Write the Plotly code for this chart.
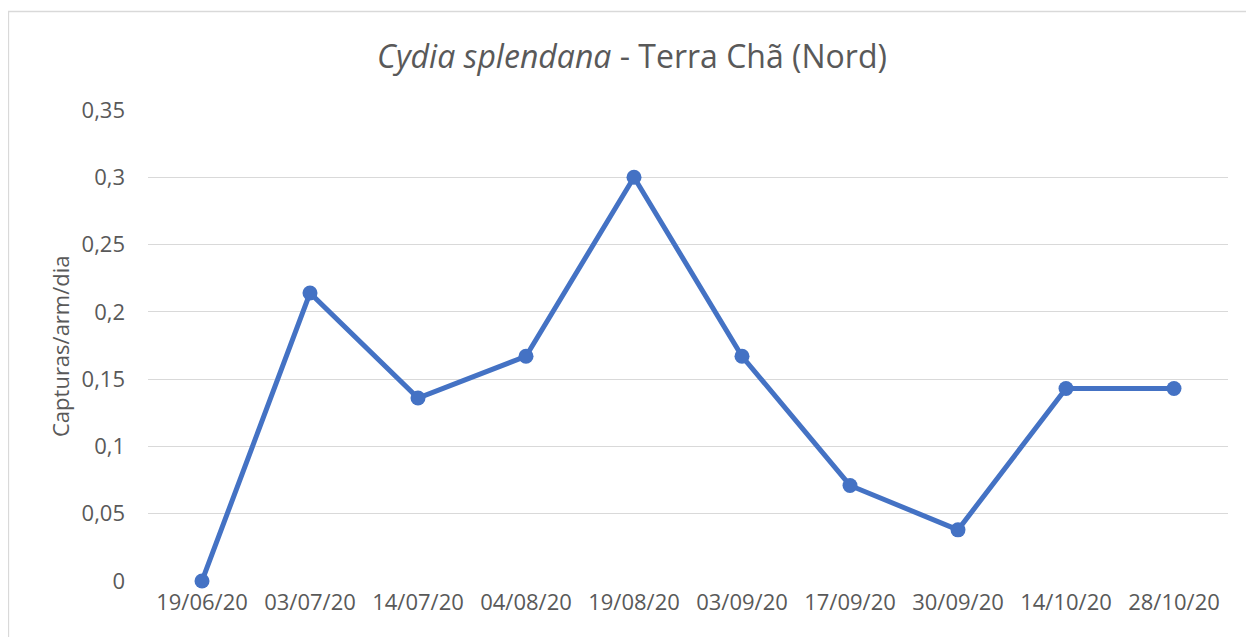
import plotly.graph_objects as go

dates = ["19/06/20", "03/07/20", "14/07/20", "04/08/20", "19/08/20",
         "03/09/20", "17/09/20", "30/09/20", "14/10/20", "28/10/20"]
captures = [0.0, 0.214, 0.136, 0.167, 0.300, 0.167, 0.071, 0.038, 0.143, 0.143]
y_tickvals = [0, 0.05, 0.1, 0.15, 0.2, 0.25, 0.3, 0.35]
y_ticktext = ["0", "0,05", "0,1", "0,15", "0,2", "0,25", "0,3", "0,35"]

# page body has an 8px offset; compensate so the screenshot matches
OFF = 8
W, H = 1254 - OFF, 637 - OFF
L, R, T, B = 148 - OFF, 26, 110 - OFF, 56
pw, ph = W - L - R, H - T - B

FONT = "Open Sans"
GREY = "#595959"
GRID = "#D9D9D9"

fig = go.Figure()
fig.add_trace(go.Scatter(
    x=dates, y=captures, mode="lines+markers",
    line=dict(color="#4472C4", width=5),
    marker=dict(color="#4472C4", size=15),
    showlegend=False, cliponaxis=False,
))

fig.update_layout(
    width=W, height=H,
    margin=dict(l=L, r=R, t=T, b=B, pad=0),
    paper_bgcolor="white", plot_bgcolor="white",
    font=dict(family=FONT, color=GREY),
    title=dict(
        text="<i>Cydia splendana</i> - Terra Chã (Nord)",
        x=(632 - OFF) / W, xref="container", xanchor="center",
        y=1 - (57 - OFF) / H, yref="container", yanchor="middle",
        font=dict(family=FONT, size=32, color=GREY),
    ),
    xaxis=dict(
        type="category", range=[-0.5, len(dates) - 0.5],
        showgrid=False, zeroline=False, showline=False,
        ticks="", tickfont=dict(family=FONT, size=22, color=GREY),
        ticklabelstandoff=6,
    ),
    yaxis=dict(
        range=[0, 0.35], tickvals=y_tickvals, ticktext=y_ticktext,
        showgrid=True, gridcolor=GRID, gridwidth=1.3,
        zeroline=False, showline=False, ticks="",
        tickfont=dict(family=FONT, size=22, color=GREY),
        ticklabelstandoff=22,
    ),
    annotations=[dict(
        text="Capturas/arm/dia", textangle=-90,
        x=(60 - 148) / pw, xref="paper", xanchor="center",
        y=(581 - 346) / ph, yref="paper", yanchor="middle",
        showarrow=False, font=dict(family=FONT, size=22, color=GREY),
    )],
    shapes=[dict(
        type="rect", xref="paper", yref="paper",
        x0=(8.5 - 148) / pw, x1=(1270 - 148) / pw,
        y0=(581 - 660) / ph, y1=(581 - 11.5) / ph,
        line=dict(color=GRID, width=1.3), fillcolor="rgba(0,0,0,0)",
        layer="below",
    )],
)

fig.write_html("out.html")
